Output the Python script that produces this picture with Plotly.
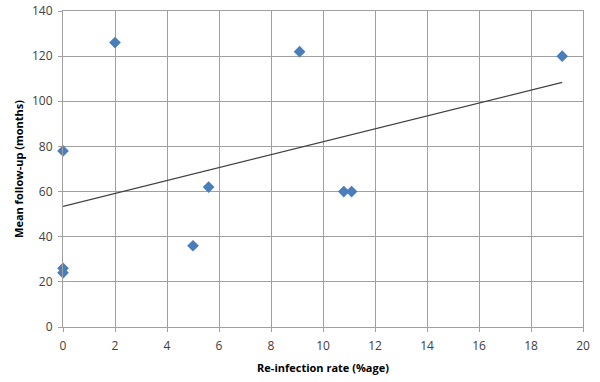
import numpy as np
import plotly.graph_objects as go

reinfection_rate = [0, 0, 0, 2, 5, 5.6, 9.1, 10.8, 11.1, 19.2]
mean_followup = [78, 26, 24, 126, 36, 62, 122, 60, 60, 120]
x_ticks = list(range(0, 21, 2))
y_ticks = list(range(0, 141, 20))

slope, intercept = np.polyfit(reinfection_rate, mean_followup, 1)
trend_x = [min(reinfection_rate), max(reinfection_rate)]
trend_y = [intercept + slope * v for v in trend_x]

fig = go.Figure()
fig.add_trace(go.Scatter(
    x=trend_x, y=trend_y, mode="lines",
    line=dict(color="#404040", width=1.2), showlegend=False, hoverinfo="skip"))
fig.add_trace(go.Scatter(
    x=reinfection_rate, y=mean_followup, mode="markers", cliponaxis=False,
    marker=dict(symbol="diamond", size=9, color="#4A7EBB"), showlegend=False))

font_family = "Open Sans, Liberation Sans, sans-serif"
fig.update_layout(
    width=600, height=382,
    margin=dict(l=63, r=17, t=11, b=55, autoexpand=False),
    paper_bgcolor="white", plot_bgcolor="white",
    font=dict(family=font_family, size=11, color="#404040"),
)
fig.update_xaxes(
    range=[0, 20], tickvals=x_ticks, showgrid=True, gridcolor="#A0A0A0", gridwidth=1,
    showline=True, linecolor="#A0A0A0", mirror=True, zeroline=False,
    ticks="outside", ticklen=4, tickcolor="#A0A0A0", automargin=False,
    ticklabelstandoff=4,
    tickfont=dict(size=12, color="#404040"),
    title=dict(text="<b>Re-infection rate (%age)</b>", font=dict(size=11, color="#000000"), standoff=10),
)
fig.update_yaxes(
    range=[0, 140], tickvals=y_ticks, showgrid=True, gridcolor="#A0A0A0", gridwidth=1,
    showline=True, linecolor="#A0A0A0", mirror=True, zeroline=False,
    ticks="outside", ticklen=4, tickcolor="#A0A0A0", automargin=False,
    ticklabelstandoff=3,
    tickfont=dict(size=12, color="#404040"),
    title=dict(text="<b>Mean follow-up (months)</b>", font=dict(size=11, color="#000000"), standoff=6),
)

fig.write_html("out.html", config={"displayModeBar": False},
               post_script="document.body.style.margin='0';document.body.style.overflow='hidden';")
